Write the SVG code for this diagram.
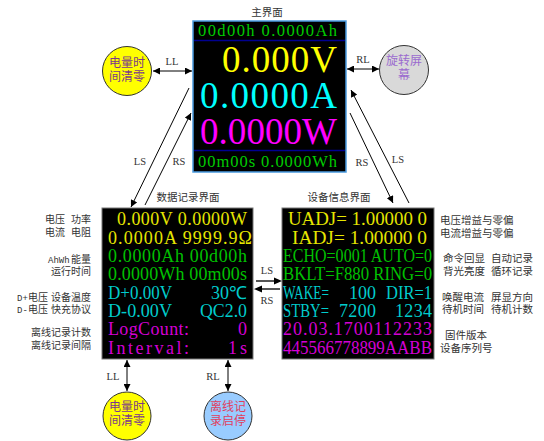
<svg xmlns="http://www.w3.org/2000/svg" width="544" height="441" viewBox="0 0 544 441">
<style>
.lbl{font-family:"Liberation Serif",serif;font-size:10.5px;fill:#333}
.cj{font-family:"Noto Sans CJK SC","Noto Sans",sans-serif;font-size:10px;fill:#333}
.cj2{font-family:"Noto Sans CJK SC","Noto Sans",sans-serif;font-size:10.5px;fill:#333}
.mn{font-family:"Liberation Mono",monospace;font-size:9px}
.cc{font-family:"Noto Sans CJK SC","Noto Sans",sans-serif;font-size:12px;text-anchor:middle}
.lcd{font-family:"Liberation Serif",serif}
.s{font-size:18px}
.y{fill:#e6e600}.g{fill:#00c000}.c{fill:#00cccc}.m{fill:#d400d4}
.arr{stroke:#000;stroke-width:1;fill:none}
.garr{stroke:#555;stroke-width:2;fill:none}
.circ{stroke:#333;stroke-width:1}
</style>
<defs>
<marker id="ah" viewBox="0 0 10 10" refX="10" refY="5" markerWidth="7" markerHeight="7" markerUnits="userSpaceOnUse" orient="auto-start-reverse">
<path d="M0,0 L10,5 L0,10 z" fill="#000"/>
</marker>
</defs>

<g id="main-screen">
<text class="cj2" x="267" y="16" text-anchor="middle">主界面</text>
<rect x="193" y="21" width="153" height="151" fill="#000" stroke="#4a9be0" stroke-width="1.5"/>
<line x1="194" y1="40.5" x2="345" y2="40.5" stroke="#000090" stroke-width="1.5"/>
<line x1="194" y1="150.5" x2="345" y2="150.5" stroke="#000090" stroke-width="1.5"/>
<text class="lcd" x="198" y="36" font-size="16.5" fill="#00cc00" textLength="139" lengthAdjust="spacing">00d00h 0.0000Ah</text>
<text class="lcd" x="222" y="72" font-size="37" fill="#ffff00" textLength="115" lengthAdjust="spacing">0.000V</text>
<text class="lcd" x="200" y="108" font-size="37" fill="#00ffff" textLength="137" lengthAdjust="spacing">0.0000A</text>
<text class="lcd" x="200" y="144" font-size="37" fill="#ff00ff" textLength="137" lengthAdjust="spacing">0.0000W</text>
<text class="lcd" x="198" y="167" font-size="16.5" fill="#00cc00" textLength="139" lengthAdjust="spacing">00m00s 0.0000Wh</text>
</g>

<g id="data-screen">
<text class="cj2" x="188" y="201" text-anchor="middle">数据记录界面</text>
<rect x="102" y="208" width="151" height="151" fill="#000" stroke="#777" stroke-width="1"/>
<text class="lcd s y" x="117" y="225" textLength="130" lengthAdjust="spacing">0.000V 0.0000W</text>
<text class="lcd s y" x="108" y="243.5" textLength="144" lengthAdjust="spacing">0.0000A 9999.9Ω</text>
<text class="lcd s g" x="108" y="262" textLength="139" lengthAdjust="spacing">0.0000Ah 00d00h</text>
<text class="lcd s g" x="108" y="280" textLength="139" lengthAdjust="spacing">0.0000Wh 00m00s</text>
<text class="lcd s c" x="108" y="298.5" textLength="64" lengthAdjust="spacingAndGlyphs">D+0.00V</text>
<text class="lcd s c" x="247" y="298.5" text-anchor="end">30℃</text>
<text class="lcd s c" x="108" y="317" textLength="64" lengthAdjust="spacingAndGlyphs">D-0.00V</text>
<text class="lcd s c" x="200" y="317" textLength="47" lengthAdjust="spacingAndGlyphs">QC2.0</text>
<text class="lcd s m" x="108" y="335" textLength="81" lengthAdjust="spacing">LogCount:</text>
<text class="lcd s m" x="247" y="335" text-anchor="end">0</text>
<text class="lcd s m" x="108" y="353.5" textLength="81" lengthAdjust="spacing">Interval:</text>
<text class="lcd s m" x="228" y="353.5" textLength="19" lengthAdjust="spacing">1s</text>
</g>

<g id="data-labels">
<text class="cj"><tspan x="45" y="223">电压</tspan><tspan x="71" y="223">功率</tspan><tspan x="45" y="236">电流</tspan><tspan x="71" y="236">电阻</tspan></text>
<text class="cj"><tspan class="mn" x="48" y="263">AhWh</tspan><tspan x="71" y="263">能量</tspan><tspan x="51" y="275">运行时间</tspan></text>
<text class="cj"><tspan class="mn" x="17" y="301">D+</tspan><tspan x="28" y="301">电压</tspan><tspan x="51" y="301">设备温度</tspan><tspan class="mn" x="17" y="313">D-</tspan><tspan x="28" y="313">电压</tspan><tspan x="51" y="313">快充协议</tspan></text>
<text class="cj"><tspan x="31" y="336">离线记录计数</tspan><tspan x="31" y="349">离线记录间隔</tspan></text>
</g>

<g id="info-screen">
<text class="cj2" x="339" y="201" text-anchor="middle">设备信息界面</text>
<rect x="282" y="208" width="152" height="151" fill="#000" stroke="#777" stroke-width="1"/>
<text class="lcd s y" x="288" y="225" textLength="139" lengthAdjust="spacingAndGlyphs">UADJ= 1.00000 0</text>
<text class="lcd s y" x="292" y="243.5" textLength="135" lengthAdjust="spacingAndGlyphs">IADJ= 1.00000 0</text>
<text class="lcd s g" x="283" y="262" textLength="149" lengthAdjust="spacingAndGlyphs">ECHO=0001 AUTO=0</text>
<text class="lcd s g" x="283" y="280" textLength="149" lengthAdjust="spacingAndGlyphs">BKLT=F880 RING=0</text>
<text class="lcd s c" x="283" y="298.5" textLength="46" lengthAdjust="spacingAndGlyphs">WAKE=</text>
<text class="lcd s c" x="349" y="298.5" textLength="27" lengthAdjust="spacing">100</text>
<text class="lcd s c" x="386" y="298.5" textLength="46" lengthAdjust="spacingAndGlyphs">DIR=1</text>
<text class="lcd s c" x="283" y="317" textLength="46" lengthAdjust="spacingAndGlyphs">STBY=</text>
<text class="lcd s c" x="339" y="317" textLength="37" lengthAdjust="spacing">7200</text>
<text class="lcd s c" x="395" y="317" textLength="37" lengthAdjust="spacing">1234</text>
<text class="lcd s m" x="283" y="335" textLength="149" lengthAdjust="spacing">20.03.1700112233</text>
<text class="lcd s m" x="283" y="353.5" textLength="149" lengthAdjust="spacingAndGlyphs">445566778899AABB</text>
</g>

<g id="info-labels">
<text class="cj2"><tspan x="440" y="224">电压增益与零偏</tspan><tspan x="440" y="237">电流增益与零偏</tspan></text>
<text class="cj2"><tspan x="443" y="262">命令回显</tspan><tspan x="491" y="262">自动记录</tspan><tspan x="443" y="275">背光亮度</tspan><tspan x="491" y="275">循环记录</tspan></text>
<text class="cj2"><tspan x="442" y="301">唤醒电流</tspan><tspan x="491" y="301">屏显方向</tspan><tspan x="442" y="313">待机时间</tspan><tspan x="491" y="313">待机计数</tspan></text>
<text class="cj2"><tspan x="445" y="339">固件版本</tspan><tspan x="440" y="352">设备序列号</tspan></text>
</g>

<g id="clear-time-top">
<circle class="circ" cx="127" cy="71" r="24.5" fill="#ffff00"/>
<text class="cc" fill="#7a3a8a"><tspan x="127" y="67">电量时</tspan><tspan x="127" y="81">间清零</tspan></text>
</g>

<g id="rotate-screen">
<circle class="circ" cx="404" cy="70" r="24.5" fill="#d9d9d9"/>
<text class="cc" fill="#9b6bcf"><tspan x="404" y="65">旋转屏</tspan><tspan x="404" y="79">幕</tspan></text>
</g>

<g id="clear-time-bottom">
<circle class="circ" cx="127" cy="416" r="24" fill="#ffff00"/>
<text class="cc" fill="#7a3a8a"><tspan x="127" y="411">电量时</tspan><tspan x="127" y="425">间清零</tspan></text>
</g>

<g id="offline-log">
<circle class="circ" cx="228" cy="416" r="24" fill="#99ccff"/>
<text class="cc" fill="#e0405e"><tspan x="228" y="411">离线记</tspan><tspan x="228" y="425">录启停</tspan></text>
</g>

<g id="connectors">
<line class="arr" x1="153" y1="71" x2="192" y2="71" marker-start="url(#ah)" marker-end="url(#ah)"/>
<text class="lbl" x="172" y="65" text-anchor="middle">LL</text>
<line class="arr" x1="347" y1="69" x2="379" y2="69" marker-start="url(#ah)" marker-end="url(#ah)"/>
<text class="lbl" x="363" y="63" text-anchor="middle">RL</text>

<line class="arr" x1="189" y1="88" x2="131" y2="207" marker-end="url(#ah)"/>
<line class="arr" x1="145" y1="205" x2="191" y2="113" marker-end="url(#ah)"/>
<text class="lbl" x="140" y="165" text-anchor="middle">LS</text>
<text class="lbl" x="179" y="165" text-anchor="middle">RS</text>

<line class="arr" x1="350" y1="113" x2="393" y2="203" marker-end="url(#ah)"/>
<line class="arr" x1="409" y1="203" x2="351" y2="90" marker-end="url(#ah)"/>
<text class="lbl" x="362" y="166" text-anchor="middle">RS</text>
<text class="lbl" x="398" y="163" text-anchor="middle">LS</text>

<line class="garr" x1="256" y1="281" x2="275" y2="281"/>
<path d="M282,281 L274,277.5 L274,284.5 z" fill="#000"/>
<line class="garr" x1="260" y1="289" x2="280" y2="289"/>
<path d="M254,289 L262,285.5 L262,292.5 z" fill="#000"/>
<text class="lbl" x="267" y="274" text-anchor="middle">LS</text>
<text class="lbl" x="267" y="304" text-anchor="middle">RS</text>

<line class="arr" x1="127" y1="360" x2="127" y2="391" marker-start="url(#ah)" marker-end="url(#ah)"/>
<text class="lbl" x="113" y="380" text-anchor="middle">LL</text>
<line class="arr" x1="228" y1="360" x2="228" y2="391" marker-start="url(#ah)" marker-end="url(#ah)"/>
<text class="lbl" x="213" y="380" text-anchor="middle">RL</text>
</g>
</svg>
